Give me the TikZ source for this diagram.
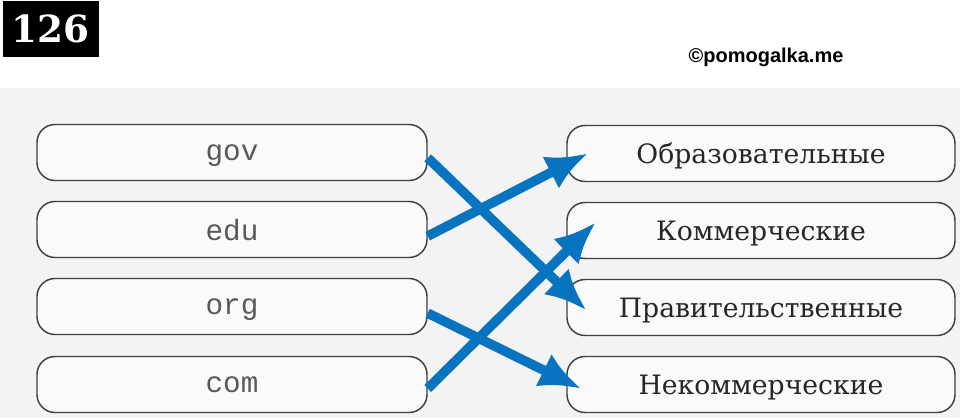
\documentclass[tikz,border=0pt]{standalone}
\usepackage{fontspec}
\usetikzlibrary{arrows.meta}
\newfontfamily\boxserif{DejaVu Serif}
\newfontfamily\boxmono{Liberation Mono}
\newfontfamily\marksans{Liberation Sans}
\definecolor{linkblue}{RGB}{8,115,190}
\definecolor{paper}{RGB}{243,243,243}
\tikzset{>={Latex[length=31pt,width=27pt]}}
\tikzset{
  zonebox/.style={draw=black!75,line width=1.1pt,fill=white!60!paper,rounded corners=13.5pt,
    minimum width=292.5pt,minimum height=42pt,text depth=0pt,
    font=\boxmono\fontsize{22}{22}\selectfont,text=black!65}, % left boxes
  kindbox/.style={zonebox,minimum width=291pt,font=\boxserif\fontsize{20}{20}\selectfont,text=black!85}, % right boxes
  link/.style={->,linkblue,line width=7.2pt}, % blue arrows
}

\begin{document}
\begin{tikzpicture}[x=0.75pt,y=-0.75pt]
  \useasboundingbox (0,0) rectangle (960,418);
  \fill[paper] (0,88) rectangle (960,418); % grey page
  \node[fill=black,text=white,font=\boxserif\bfseries\fontsize{28}{28}\selectfont,
    minimum width=72pt,minimum height=42pt,inner sep=0pt] (num) at (50.5,29) {126};
  \node[font=\marksans\bfseries\fontsize{15}{15}\selectfont] (mark) at (766,57) {©pomogalka.me};
  % left column
  \node[zonebox] (gov) at (232,152.5) {gov};
  \node[zonebox] (edu) at (232,229.5) {edu};
  \node[zonebox] (org) at (232,306.5) {org};
  \node[zonebox] (com) at (232,384.5) {com};
  % right column
  \node[kindbox] (obr) at (761,153.5) {Образовательные};
  \node[kindbox] (kom) at (761,230.5) {Коммерческие};
  \node[kindbox] (prav) at (761,307.5) {Правительственные};
  \node[kindbox] (nekom) at (761,384.5) {Некоммерческие};
  % answers
  \draw[link] ([yshift=-4pt]gov.east) -- ([xshift=15pt,yshift=-2pt]prav.west);
  \draw[link] ([yshift=-5pt]edu.east) -- ([xshift=16pt,yshift=0pt]obr.west);
  \draw[link] ([yshift=-5pt]org.east) -- ([xshift=11pt,yshift=-3pt]nekom.west);
  \draw[link] ([yshift=-3pt]com.east) -- ([xshift=22pt,yshift=6pt]kom.west);
\end{tikzpicture}
\end{document}
